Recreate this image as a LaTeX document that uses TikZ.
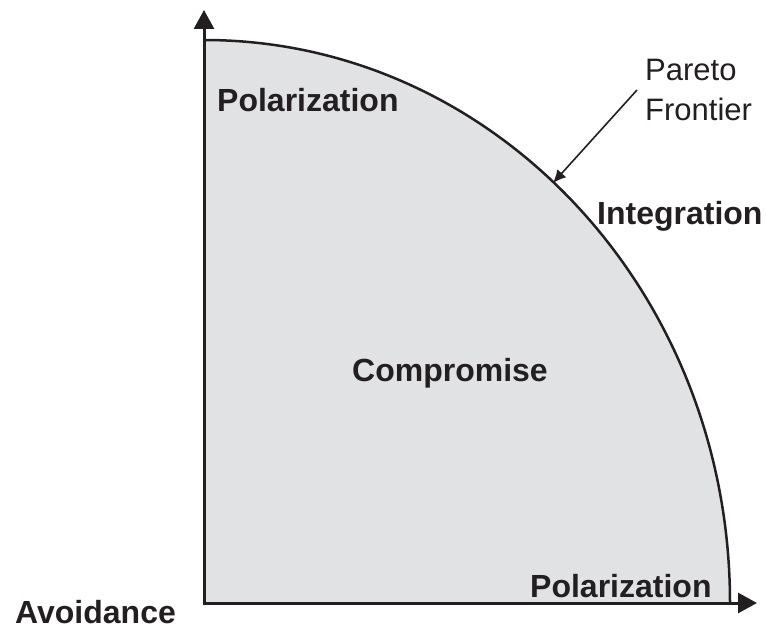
\documentclass[tikz,border=0pt]{standalone}
\usepackage{fontspec}
\setmainfont{Liberation Sans}
\usepackage{xcolor}
\usetikzlibrary{arrows.meta,positioning,calc}

\definecolor{regiongray}{HTML}{E1E2E4}
\definecolor{inkblack}{HTML}{231F20}

\begin{document}
\begin{tikzpicture}[x=1pt, y=1pt,
  axis/.style={draw=inkblack, line width=3pt, -{Triangle[length=19pt, width=20pt]}},
  frontier/.style={draw=inkblack, line width=2.5pt},
  ar/.style={draw=inkblack, line width=1.6pt, -{Latex[length=13pt, width=12pt]}},
  region/.style={font=\fontsize{32}{38}\selectfont\bfseries, text=inkblack, inner sep=0pt},
  note/.style={font=\fontsize{31}{40}\selectfont, text=inkblack, align=left}]
  \useasboundingbox (0,0) rectangle (766,630);
  % axes meet at the origin; frontier is a quarter ellipse (rx 526, ry 563)
  \coordinate (O) at (204,27);
  \coordinate (ytip) at (204,620);
  \coordinate (xtip) at (757,27);
  \coordinate (ytop) at (204,590);
  \coordinate (phead) at (553,447);
  % shaded feasible region and its frontier
  \fill[regiongray] (O) -- (ytop) arc[start angle=90, end angle=0, x radius=526pt, y radius=563pt] -- cycle;
  \draw[frontier] (ytop) arc[start angle=90, end angle=0, x radius=526pt, y radius=563pt];
  \draw[axis] (O) -- (ytip);
  \draw[axis] ($(O)+(-1.5,0)$) -- (xtip);
  % region labels
  \node[region, anchor=base west] (poltop) at (217,518) {Polarization};
  \node[region, anchor=base west] (integ) at (597,405) {Integration};
  \node[region, anchor=base] (comp) at (450,248) {Compromise};
  \node[region, anchor=base west] (polbot) at (530,33) {Polarization};
  \node[region, anchor=base west] (avoid) at (15,7) {Avoidance};
  % frontier callout
  \node[note, anchor=north west, inner xsep=8pt, inner ysep=0pt] (pareto) at (637,571) {Pareto\\Frontier};
  \draw[ar] (pareto.west) -- (phead);
\end{tikzpicture}
\end{document}
